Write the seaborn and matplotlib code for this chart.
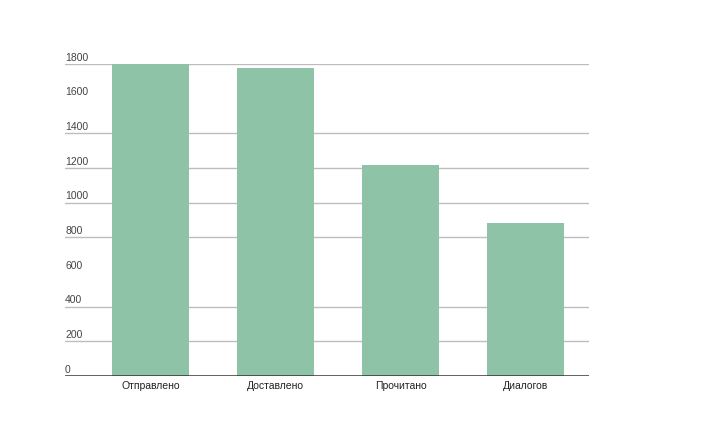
import pandas as pd
import matplotlib.pyplot as plt
import matplotlib.transforms as mtransforms
import seaborn as sns

# values
categories = ["Отправлено", "Доставлено", "Прочитано", "Диалогов"]
values = [1800, 1777, 1215, 884]
ytick_values = [0, 200, 400, 600, 800, 1000, 1200, 1400, 1600, 1800]
grid_values = [200, 400, 800, 1000, 1200, 1400, 1800]

df = pd.DataFrame({"stage": categories, "count": values})

sns.set_style("white")
plt.rcParams["font.family"] = ["Liberation Sans", "DejaVu Sans"]

fig = plt.figure(figsize=(7.05, 4.21), dpi=100)
ax = fig.add_axes([65 / 705, 1 - 376 / 421, (589 - 65) / 705, (376 - 64) / 421])

for g in grid_values:
    ax.axhline(g, color="#bdbdbd", linewidth=1, zorder=0)

sns.barplot(data=df, x="stage", y="count", color="#8fc3a7", saturation=1,
            width=0.616, linewidth=0, ax=ax, zorder=2)

ax.axhline(0, color="#333333", linewidth=1.8, zorder=3)

ax.set_xlim(-0.684, 3.508)
ax.set_ylim(0, 1800)
ax.set_xlabel("")
ax.set_ylabel("")
ax.set_yticks([])
ax.tick_params(axis="x", length=0, pad=3.5, labelsize=7.5, labelcolor="#222222")
sns.despine(ax=ax, left=True, bottom=True, top=True, right=True)

trans = mtransforms.offset_copy(ax.get_yaxis_transform(), fig=fig, x=0, y=1, units="points")
for v in ytick_values:
    ax.text(0, v, str(v), transform=trans, ha="left", va="bottom",
            fontsize=7.5, color="#444444", clip_on=False)

fig.savefig("out.png", dpi=100)
